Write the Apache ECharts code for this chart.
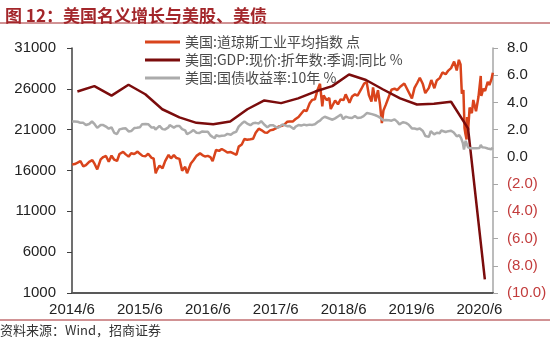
<!DOCTYPE html>
<html><head><meta charset="utf-8">
<script src="https://cdn.jsdelivr.net/npm/echarts@6/dist/echarts.min.js"></script>
<style>html,body{margin:0;padding:0;background:#fff}#c{width:550px;height:342px}</style>
</head><body><div id="c"></div>
<script>
const titleText = '图 12：美国名义增长与美股、美债';
const sourceText = '资料来源：Wind，招商证券';
const seriesNames = ['美国:道琼斯工业平均指数 点', '美国:GDP:现价:折年数:季调:同比 %', '美国:国债收益率:10年 %'];
const leftTicks = [1000, 6000, 11000, 16000, 21000, 26000, 31000];
const xTickDates = ['2014-06-01','2015-06-01','2016-06-01','2017-06-01','2018-06-01','2019-06-01','2020-06-01'];
const xTickLabels = ['2014/6','2015/6','2016/6','2017/6','2018/6','2019/6','2020/6'];
const xRange = ['2014-06-01', '2020-08-13'];

const djia = [
['2014-06-02',16743],['2014-06-16',16782],['2014-07-01',16956],['2014-07-16',17138],['2014-08-01',16493],['2014-08-15',16662],
['2014-09-02',17067],['2014-09-19',17280],['2014-10-01',16804],['2014-10-15',16141],['2014-11-03',17366],['2014-11-17',17647],
['2014-12-01',17776],['2014-12-16',17068],['2014-12-31',17823],
['2015-01-15',17320],['2015-01-30',17165],['2015-02-13',18019],['2015-03-02',18288],['2015-03-16',17977],['2015-04-01',17698],
['2015-04-15',18113],['2015-05-01',18024],['2015-05-19',18312],['2015-06-01',18040],['2015-06-15',17791],['2015-07-01',17757],
['2015-07-15',18050],['2015-08-03',17550],['2015-08-14',17477],['2015-08-25',15666],['2015-09-01',16058],['2015-09-15',16599],
['2015-10-01',16272],['2015-10-15',17141],['2015-11-03',17918],['2015-11-16',17483],['2015-12-01',17888],['2015-12-15',17524],
['2015-12-31',17425],
['2016-01-15',15988],['2016-02-01',16449],['2016-02-11',15660],['2016-03-01',16865],['2016-03-15',17251],['2016-04-01',17792],
['2016-04-20',18096],['2016-05-02',17891],['2016-05-16',17711],['2016-06-01',17789],['2016-06-15',17640],['2016-06-27',17140],
['2016-07-15',18516],['2016-08-01',18404],['2016-08-15',18636],['2016-09-01',18419],['2016-09-15',18212],['2016-10-03',18253],
['2016-10-17',18086],['2016-11-03',17930],['2016-11-15',18923],['2016-12-01',19191],['2016-12-15',19852],['2016-12-30',19763],
['2017-01-17',19826],['2017-02-01',19890],['2017-02-15',20611],['2017-03-01',21115],['2017-03-15',20950],['2017-04-03',20650],
['2017-04-17',20636],['2017-05-01',20913],['2017-05-16',20980],['2017-06-01',21144],['2017-06-15',21359],['2017-07-03',21479],
['2017-07-17',21630],['2017-08-01',21963],['2017-08-15',21998],['2017-09-01',21988],['2017-09-15',22268],['2017-10-02',22557],
['2017-10-16',22957],['2017-11-01',23377],['2017-11-15',23272],['2017-12-01',24232],['2017-12-15',24651],['2017-12-29',24719],
['2018-01-12',25803],['2018-01-26',26616],['2018-02-08',23860],['2018-02-15',25200],['2018-03-01',24608],['2018-03-15',24873],
['2018-03-23',23533],['2018-04-02',23644],['2018-04-16',24573],['2018-05-01',24099],['2018-05-15',24706],['2018-06-01',24635],
['2018-06-12',25320],['2018-07-02',24307],['2018-07-16',25064],['2018-08-01',25333],['2018-08-15',25162],['2018-09-04',25952],
['2018-09-20',26657],['2018-10-03',26828],['2018-10-15',25250],['2018-10-29',24442],['2018-11-07',26180],['2018-11-20',24465],
['2018-12-03',25826],['2018-12-14',24100],['2018-12-24',21792],
['2019-01-02',23346],['2019-01-15',24065],['2019-02-01',25064],['2019-02-15',25883],['2019-03-01',26026],['2019-03-15',25849],
['2019-04-01',26258],['2019-04-23',26656],['2019-05-01',26430],['2019-05-15',25648],['2019-06-03',24819],['2019-06-17',26112],
['2019-07-01',26717],['2019-07-15',27359],['2019-08-01',26583],['2019-08-14',25479],['2019-09-03',26118],['2019-09-16',27076],
['2019-10-02',26078],['2019-10-15',27024],['2019-11-01',27347],['2019-11-15',28005],['2019-12-02',27783],['2019-12-16',28235],
['2019-12-31',28538],
['2020-01-17',29348],['2020-01-31',28256],['2020-02-12',29551],['2020-02-21',28992],['2020-02-28',25409],['2020-03-06',25864],
['2020-03-12',21200],['2020-03-16',20600],['2020-03-23',19800],['2020-03-26',22552],['2020-04-01',20943],['2020-04-09',23719],
['2020-04-21',23018],['2020-04-29',24633],['2020-05-13',23247],['2020-05-26',24995],['2020-06-08',27572],['2020-06-11',25128],
['2020-06-22',26025],['2020-07-01',25734],['2020-07-15',26870],['2020-07-24',26469],['2020-08-05',27201],['2020-08-12',27976]
];

const gdp = [
['2014-06-30',4.8],['2014-09-30',5.2],['2014-12-31',4.5],['2015-03-31',5.3],['2015-06-30',4.6],['2015-09-30',3.5],
['2015-12-31',2.9],['2016-03-31',2.5],['2016-06-30',2.4],['2016-09-30',2.6],['2016-12-31',3.5],['2017-03-31',4.15],
['2017-06-30',3.95],['2017-09-30',4.3],['2017-12-31',4.8],['2018-03-31',5.2],['2018-06-30',6.05],['2018-09-30',5.65],
['2018-12-31',4.95],['2019-03-31',4.3],['2019-06-30',3.85],['2019-09-30',3.9],['2019-12-31',4.05],['2020-03-31',2.1],
['2020-06-30',-9.0]
];

const ust10y = [
['2014-06-02',2.60],['2014-06-16',2.60],['2014-07-01',2.58],['2014-07-16',2.50],['2014-08-01',2.50],['2014-08-15',2.34],
['2014-09-02',2.42],['2014-09-17',2.60],['2014-10-01',2.40],['2014-10-15',2.13],['2014-11-03',2.34],['2014-11-17',2.34],
['2014-12-01',2.23],['2014-12-16',2.07],['2014-12-31',2.17],
['2015-01-15',1.77],['2015-01-30',1.68],['2015-02-13',2.02],['2015-03-02',2.08],['2015-03-16',2.10],['2015-04-01',1.87],
['2015-04-15',1.90],['2015-05-01',2.12],['2015-05-15',2.14],['2015-06-01',2.18],['2015-06-12',2.39],['2015-07-01',2.42],
['2015-07-15',2.40],['2015-08-03',2.15],['2015-08-17',2.17],['2015-08-24',2.00],['2015-09-15',2.28],['2015-10-01',2.04],
['2015-10-15',2.02],['2015-11-02',2.17],['2015-11-09',2.34],['2015-12-01',2.15],['2015-12-15',2.27],['2015-12-31',2.27],
['2016-01-15',2.04],['2016-02-01',1.95],['2016-02-11',1.66],['2016-03-01',1.83],['2016-03-15',1.97],['2016-04-01',1.77],
['2016-04-15',1.75],['2016-05-02',1.87],['2016-05-16',1.85],['2016-06-01',1.85],['2016-06-15',1.58],['2016-06-27',1.46],
['2016-07-08',1.37],['2016-07-15',1.59],['2016-08-01',1.52],['2016-08-15',1.56],['2016-09-01',1.57],['2016-09-15',1.69],
['2016-10-03',1.63],['2016-10-17',1.77],['2016-11-01',1.84],['2016-11-15',2.22],['2016-12-01',2.45],['2016-12-15',2.60],
['2016-12-30',2.45],
['2017-01-17',2.33],['2017-02-01',2.48],['2017-02-15',2.50],['2017-03-01',2.46],['2017-03-14',2.62],['2017-04-03',2.34],
['2017-04-17',2.17],['2017-05-01',2.32],['2017-05-16',2.33],['2017-06-01',2.21],['2017-06-14',2.13],['2017-07-07',2.39],
['2017-07-17',2.31],['2017-08-01',2.26],['2017-08-15',2.27],['2017-09-07',2.05],['2017-09-15',2.20],['2017-10-02',2.34],
['2017-10-16',2.30],['2017-11-01',2.37],['2017-11-15',2.33],['2017-12-01',2.37],['2017-12-15',2.35],['2017-12-29',2.40],
['2018-01-12',2.55],['2018-01-26',2.66],['2018-02-08',2.84],['2018-02-21',2.95],['2018-03-01',2.81],['2018-03-15',2.82],
['2018-04-02',2.73],['2018-04-16',2.83],['2018-05-01',2.97],['2018-05-17',3.11],['2018-05-29',2.77],['2018-06-12',2.96],
['2018-07-02',2.87],['2018-07-16',2.85],['2018-08-01',3.00],['2018-08-15',2.86],['2018-09-04',2.90],['2018-09-17',2.99],
['2018-10-05',3.23],['2018-10-15',3.16],['2018-11-01',3.14],['2018-11-08',3.24],['2018-11-20',3.06],['2018-12-03',2.98],
['2018-12-14',2.89],['2018-12-31',2.69],
['2019-01-15',2.71],['2019-02-01',2.69],['2019-02-15',2.66],['2019-03-01',2.76],['2019-03-15',2.59],['2019-03-27',2.39],
['2019-04-15',2.55],['2019-05-01',2.50],['2019-05-15',2.38],['2019-06-03',2.09],['2019-06-17',2.09],['2019-07-01',2.03],
['2019-07-15',2.09],['2019-08-01',1.90],['2019-08-15',1.53],['2019-09-03',1.47],['2019-09-13',1.90],['2019-10-01',1.65],
['2019-10-15',1.77],['2019-11-01',1.73],['2019-11-08',1.94],['2019-12-02',1.83],['2019-12-16',1.89],['2019-12-31',1.92],
['2020-01-15',1.79],['2020-01-31',1.51],['2020-02-14',1.59],['2020-02-24',1.38],['2020-03-03',1.02],['2020-03-09',0.54],
['2020-03-18',1.18],['2020-03-31',0.70],['2020-04-15',0.63],['2020-05-01',0.64],['2020-05-15',0.64],['2020-06-01',0.66],
['2020-06-08',0.88],['2020-06-15',0.71],['2020-07-01',0.68],['2020-07-15',0.62],['2020-08-03',0.56],['2020-08-12',0.67]
];

function toMonths(d){
  const p = d.split('-').map(Number);
  return (p[0]-2014)*12 + (p[1]-6) + (p[2]-1)/30.44;
}
const conv = arr => arr.map(r => [toMonths(r[0]), r[1]]);
const xTickVals = xTickDates.map(toMonths);

const chart = echarts.init(document.getElementById('c'), null, {renderer:'canvas'});
const font = '"Liberation Sans", Arial, sans-serif';
const cjk = '"Noto Sans CJK SC", sans-serif';
const titleColor = '#A3262A';

chart.setOption({
  animation: false,
  backgroundColor: '#fff',
  title: {
    text: titleText, left: 0, top: 2,
    textStyle: {fontFamily: cjk, fontSize: 17, fontWeight: 'bold', color: titleColor}
  },
  graphic: [
    {type:'line', shape:{x1:0, y1:23, x2:550, y2:23}, style:{stroke:titleColor, lineWidth:1}},
    {type:'line', shape:{x1:0, y1:320, x2:550, y2:320}, style:{stroke:titleColor, lineWidth:1}},
    {type:'text', left: 0, top: 324, style:{text: sourceText, font: '13px "Noto Sans CJK SC"', fill:'#333'}}
  ],
  legend: {
    orient: 'vertical', left: 140, top: 30, itemWidth: 35, itemHeight: 3, itemGap: 4,
    icon: 'rect',
    textStyle: {fontFamily: cjk, fontSize: 14, color: '#4a4a4a', padding:[0,0,0,0]},
    data: seriesNames
  },
  grid: {left: 72, right: 57, top: 48, bottom: 49, containLabel: false},
  xAxis: {
    type: 'value', min: 0, max: toMonths(xRange[1]),
    axisLine: {show: true, onZero: false, lineStyle: {color: '#595959', width: 2}},
    axisTick: {show: false},
    splitLine: {show: false},
    axisLabel: {
      customValues: xTickVals, margin: 9, fontFamily: font, fontSize: 15, color: '#222',
      formatter: v => { const i = xTickVals.findIndex(t => Math.abs(t - v) < 0.01); return i >= 0 ? xTickLabels[i] : ''; }
    }
  },
  yAxis: [
    {
      type: 'value', min: 1000, max: 31000, position: 'left',
      axisLine: {show: true, lineStyle: {color: '#404040', width: 1.5}},
      axisTick: {show: true, customValues: leftTicks, length: 5, lineStyle: {color: '#404040'}},
      splitLine: {show: false},
      axisLabel: {customValues: leftTicks, margin: 16, fontFamily: font, fontSize: 15, color: '#222',
        formatter: v => String(v)}
    },
    {
      type: 'value', min: -10, max: 8, interval: 2, position: 'right',
      axisLine: {show: true, lineStyle: {color: '#A6A6A6', width: 1.5}},
      axisTick: {show: true, length: 5, lineStyle: {color: '#A6A6A6'}},
      splitLine: {show: false},
      axisLabel: {
        margin: 14, fontFamily: font, fontSize: 15, color: '#222',
        formatter: v => v < 0 ? '{n|(' + (-v).toFixed(1) + ')}' : v.toFixed(1),
        rich: {n: {color: '#C23B3B', fontFamily: font, fontSize: 15}}
      }
    }
  ],
  series: [
    {name: seriesNames[0], type: 'line', yAxisIndex: 0, data: conv(djia), showSymbol: false,
     lineStyle: {color: '#D9441C', width: 2.5}, itemStyle: {color: '#D9441C'}},
    {name: seriesNames[1], type: 'line', yAxisIndex: 1, data: conv(gdp), showSymbol: false,
     lineStyle: {color: '#7B0C0C', width: 2.5}, itemStyle: {color: '#7B0C0C'}},
    {name: seriesNames[2], type: 'line', yAxisIndex: 1, data: conv(ust10y), showSymbol: false,
     lineStyle: {color: '#ABABAB', width: 2.5}, itemStyle: {color: '#ABABAB'}}
  ]
});
</script>
</body></html>
